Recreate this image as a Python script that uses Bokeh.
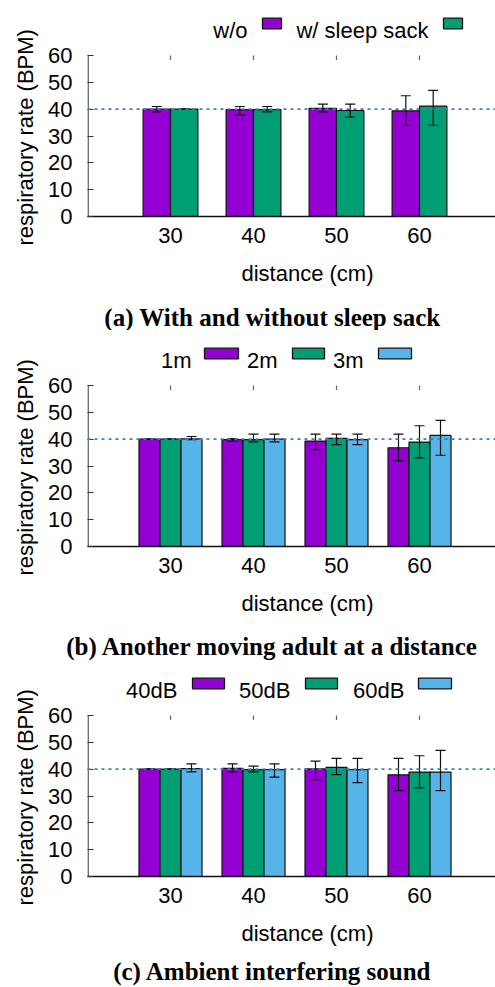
from bokeh.plotting import figure
from bokeh.models import Range1d, FixedTicker, Whisker, TeeHead, Span, Title, ColumnDataSource
from bokeh.layouts import column
from bokeh.core.properties import value
from bokeh.embed import file_html
from bokeh.resources import INLINE

# ---------------- data ----------------
categories = ["30", "40", "50", "60"]
colors = ["#9400D3", "#009E73", "#56B4E9"]

# (a) with and without sleep sack
a_names = ["w/o", "w/ sleep sack"]
a_wo = [40.0, 39.8, 40.3, 39.4]
a_wo_lo = [39.0, 37.9, 39.0, 34.0]
a_wo_hi = [41.0, 41.0, 41.9, 45.0]
a_ss = [40.0, 39.8, 39.5, 41.1]
a_ss_lo = [39.9, 39.0, 37.0, 34.0]
a_ss_hi = [40.1, 41.0, 41.9, 47.0]

# (b) another moving adult at a distance
b_names = ["1m", "2m", "3m"]
b_1m = [40.0, 39.8, 39.3, 36.8]
b_1m_lo = [39.9, 39.2, 36.0, 31.9]
b_1m_hi = [40.1, 40.2, 41.9, 41.9]
b_2m = [40.0, 39.8, 40.3, 38.9]
b_2m_lo = [39.9, 39.0, 38.0, 33.0]
b_2m_hi = [40.1, 41.9, 41.9, 45.0]
b_3m = [40.1, 40.0, 39.8, 41.4]
b_3m_lo = [39.8, 39.0, 38.0, 34.0]
b_3m_hi = [41.0, 41.9, 41.9, 47.0]

# (c) ambient interfering sound
c_names = ["40dB", "50dB", "60dB"]
c_40 = [40.0, 40.3, 40.1, 37.9]
c_40_lo = [39.9, 39.0, 36.0, 32.0]
c_40_hi = [40.1, 42.0, 43.0, 44.0]
c_50 = [40.0, 39.8, 40.7, 38.9]
c_50_lo = [39.9, 39.0, 38.0, 33.0]
c_50_hi = [40.1, 41.1, 44.0, 45.0]
c_60 = [40.2, 39.8, 39.8, 38.9]
c_60_lo = [39.0, 37.0, 35.0, 32.0]
c_60_hi = [42.0, 42.0, 44.0, 47.0]

y_ticks = [0, 10, 20, 30, 40, 50, 60]
ref_line = 40
y_label = "respiratory rate (BPM)"
x_label = "distance (cm)"

# ---------------- layout helpers ----------------
W = 495
PPU_X = 83.0
PPU_Y = 161.0 / 60.0
FRAME_LEFT = 87
F = 216            # frame bottom (y = 0) from panel top
MAIN_H = 252
SANS = "Liberation Sans"
SERIF = "Liberation Serif"


def xd(px):
    return (px - 170.0) / PPU_X


def make_panel(names, vals, los, his, bar_w, offsets, legend_px, caption, bottom_h, cap_local):
    ytop = F / PPU_Y
    p = figure(width=W, height=MAIN_H, output_backend="svg", toolbar_location=None,
               x_range=Range1d(-1, -1 + (W - FRAME_LEFT) / PPU_X), y_range=Range1d(0, ytop),
               min_border_left=FRAME_LEFT, min_border_right=0, min_border_top=0,
               min_border_bottom=MAIN_H - F)
    p.frame_align = False
    p.background_fill_color = "white"
    p.border_fill_color = "white"
    p.outline_line_color = None
    p.xgrid.visible = False
    p.ygrid.visible = False

    n = len(categories)
    p.xaxis.ticker = FixedTicker(ticks=list(range(n)))
    p.xaxis.major_label_overrides = {i: c for i, c in enumerate(categories)}
    p.xaxis.major_tick_in = 0
    p.xaxis.major_tick_out = 0
    p.xaxis.minor_tick_line_color = None
    p.xaxis.axis_line_color = "#111111"
    p.xaxis.axis_line_width = 1.3
    p.xaxis.major_label_text_font = SANS
    p.xaxis.major_label_text_font_size = "22px"
    p.xaxis.major_label_text_color = "black"
    p.xaxis.major_label_standoff = 11

    p.yaxis.ticker = FixedTicker(ticks=y_ticks)
    p.yaxis.axis_line_color = None
    p.yaxis.major_tick_in = 6
    p.yaxis.major_tick_out = 0
    p.yaxis.major_tick_line_color = "#333333"
    p.yaxis.minor_tick_line_color = None
    p.yaxis.major_label_text_font = SANS
    p.yaxis.major_label_text_font_size = "22px"
    p.yaxis.major_label_text_color = "black"
    p.yaxis.major_label_standoff = 15

    # y label as a left title, placed along the 0..60 span
    p.add_layout(Title(text=y_label, align="left", offset=-29, vertical_align="middle",
                       text_font=SANS, text_font_size="22px", text_font_style="normal",
                       text_color="black", standoff=13), "left")

    # left border from 0 to 60
    p.segment(x0=[-1 + 0.6 / PPU_X], y0=[0], x1=[-1 + 0.6 / PPU_X], y1=[y_ticks[-1]],
              line_color="#333333", line_width=1.2)
    # mirrored category ticks at the top (y = 60)
    p.segment(x0=list(range(n)), y0=[y_ticks[-1] - 4.6 / PPU_Y] * n,
              x1=list(range(n)), y1=[y_ticks[-1]] * n, line_color="#666666", line_width=1.2)

    for k in range(len(names)):
        src = ColumnDataSource(dict(
            x=[i + offsets[k] for i in range(n)], top=vals[k], lo=los[k], hi=his[k]))
        p.vbar(x="x", top="top", bottom=0, width=bar_w, source=src,
               fill_color=colors[k], line_color="#111111", line_width=1.2)
        w = Whisker(source=src, base="x", upper="hi", lower="lo",
                    line_color="#111111", line_width=1.2, level="overlay",
                    upper_head=TeeHead(size=10, line_color="#111111", line_width=1.2),
                    lower_head=TeeHead(size=10, line_color="#111111", line_width=1.2))
        p.add_layout(w)

    p.add_layout(Span(location=ref_line, dimension="width", line_color="#3d7fc2",
                      line_width=1.8, line_dash="3 4", level="overlay"))

    # legend: label text then sample box (gnuplot style)
    y_base = (F - 30.0) / PPU_Y
    y_box_top = (F - 17.7) / PPU_Y
    y_box_bot = (F - 28.3) / PPU_Y
    for k, (tr, bl, br) in enumerate(legend_px):
        p.text(x=[xd(tr)], y=[y_base], text=[names[k]], text_align="right",
               text_baseline="alphabetic", text_font=value(SANS),
               text_font_size=value("22px"), text_color="black")
        p.quad(left=[xd(bl)], right=[xd(br)], top=[y_box_top], bottom=[y_box_bot],
               fill_color=colors[k], line_color="#111111", line_width=1.3)

    # bottom strip: x label and caption
    b = figure(width=W, height=bottom_h, output_backend="svg", toolbar_location=None,
               x_range=Range1d(xd(0), xd(W)), y_range=Range1d(0, bottom_h),
               min_border=0, x_axis_type=None, y_axis_type=None)
    b.frame_align = False
    b.outline_line_color = None
    b.xgrid.visible = False
    b.ygrid.visible = False
    b.background_fill_color = "white"
    b.border_fill_color = "white"
    b.text(x=[xd(307)], y=[bottom_h - (273 - MAIN_H)], text=[x_label],
           text_align="center", text_baseline="middle", text_font=value(SANS),
           text_font_size=value("22px"), text_color="black")
    b.text(x=[xd(272)], y=[bottom_h - (cap_local - MAIN_H)], text=[caption],
           text_align="center", text_baseline="middle", text_font=value(SERIF),
           text_font_size=value("25px"), text_font_style="bold", text_color="black")
    return column(p, b, spacing=0)


pa = make_panel(a_names, [a_wo, a_ss], [a_wo_lo, a_ss_lo], [a_wo_hi, a_ss_hi],
                0.33, [-0.165, 0.165],
                [(247, 262, 281), (428, 443, 462)],
                "(a) With and without sleep sack", bottom_h=78, cap_local=317)
pb = make_panel(b_names, [b_1m, b_2m, b_3m], [b_1m_lo, b_2m_lo, b_3m_lo],
                [b_1m_hi, b_2m_hi, b_3m_hi], 0.253, [-0.253, 0.0, 0.253],
                [(191, 204, 238), (277, 292, 324), (363, 378, 411)],
                "(b) Another moving adult at a distance", bottom_h=78, cap_local=316)
pc = make_panel(c_names, [c_40, c_50, c_60], [c_40_lo, c_50_lo, c_60_lo],
                [c_40_hi, c_50_hi, c_60_hi], 0.253, [-0.253, 0.0, 0.253],
                [(177, 192, 224), (290, 305, 337), (404, 418, 451)],
                "(c) Ambient interfering sound", bottom_h=75, cap_local=311)

layout = column(pa, pb, pc, spacing=0)
open("out.html", "w").write(file_html(layout, INLINE))
